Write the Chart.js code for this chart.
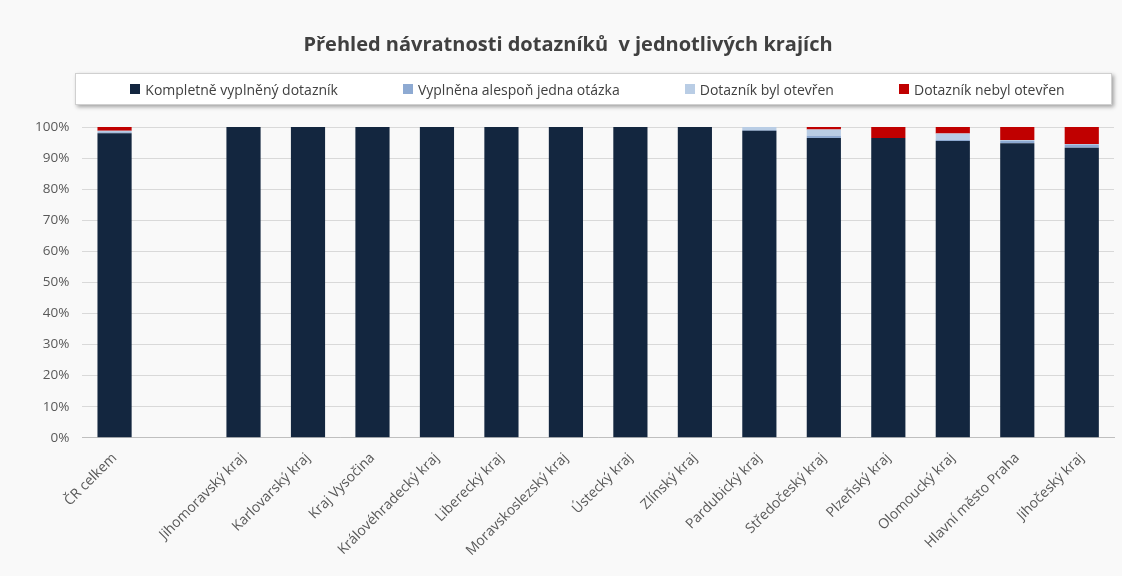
<!DOCTYPE html>
<html>
<head>
<meta charset="utf-8">
<script src="https://cdn.jsdelivr.net/npm/chart.js@4"></script>
<style>
  html, body { margin: 0; padding: 0; background: #f9f9f9; }
  #wrap { width: 1122px; height: 576px; position: relative; }
  #legend {
    position: absolute; left: 75px; top: 73px; width: 1037px; height: 32px;
    box-sizing: border-box; padding-left: 8px;
    background: #fff; border: 1px solid #d0d0d0;
    box-shadow: 2px 2px 4px rgba(0,0,0,0.35);
    display: flex; align-items: center; justify-content: center; gap: 65px;
    font: 14px 'Open Sans', 'DejaVu Sans', sans-serif; color: #404040;
  }
  #legend span.item { display: flex; align-items: center; white-space: nowrap; }
  #legend i { display: inline-block; width: 10px; height: 10px; margin-right: 5px; }
</style>
</head>
<body>
<div id="wrap"><canvas id="chart"></canvas><div id="legend"></div></div>
<script>
const categories = ["ČR celkem", "", "Jihomoravský kraj", "Karlovarský kraj", "Kraj Vysočina",
  "Královéhradecký kraj", "Liberecký kraj", "Moravskoslezský kraj", "Ústecký kraj", "Zlínský kraj",
  "Pardubický kraj", "Středočeský kraj", "Plzeňský kraj", "Olomoucký kraj", "Hlavní město Praha", "Jihočeský kraj"];

// podíly v %
const kompletne = [98.0, null, 100, 100, 100, 100, 100, 100, 100, 100, 98.8, 96.5, 96.5, 95.5, 94.8, 93.3];
const alesponJedna = [0.3, null, 0, 0, 0, 0, 0, 0, 0, 0, 0.2, 0.7, 0, 0.4, 0.8, 1.1];
const otevren = [0.5, null, 0, 0, 0, 0, 0, 0, 0, 0, 1.0, 2.0, 0, 2.0, 0.2, 0.1];
const neotevren = [1.2, null, 0, 0, 0, 0, 0, 0, 0, 0, 0, 0.8, 3.5, 2.1, 4.2, 5.5];

const yTicks = [0, 10, 20, 30, 40, 50, 60, 70, 80, 90, 100];

const font = "'Open Sans', 'DejaVu Sans', sans-serif";

const chart = new Chart(document.getElementById("chart"), {
  type: "bar",
  data: {
    labels: categories,
    datasets: [
      { label: "Kompletně vyplněný dotazník", data: kompletne, backgroundColor: "#13263f" },
      { label: "Vyplněna alespoň jedna otázka", data: alesponJedna, backgroundColor: "#8eaad2" },
      { label: "Dotazník byl otevřen", data: otevren, backgroundColor: "#b9cde5" },
      { label: "Dotazník nebyl otevřen", data: neotevren, backgroundColor: "#c00000" }
    ]
  },
  options: {
    responsive: true,
    maintainAspectRatio: false,
    animation: false,
    datasets: { bar: { barPercentage: 0.53, categoryPercentage: 1.0 } },
    layout: { padding: { left: 22, right: 8, bottom: 13 } },
    plugins: {
      title: {
        display: true,
        text: "Přehled návratnosti dotazníků  v jednotlivých krajích",
        color: "#404040",
        font: { family: font, size: 20, weight: "bold" },
        padding: { top: 33, bottom: 70 }
      },
      legend: { display: false },
      tooltip: { enabled: false }
    },
    scales: {
      x: {
        stacked: true,
        grid: { display: false },
        border: { color: "#bfbfbf" },
        ticks: {
          color: "#595959",
          minRotation: 45,
          maxRotation: 45,
          autoSkip: false,
          padding: 4,
          font: { family: font, size: 14 }
        }
      },
      y: {
        stacked: true,
        min: 0,
        max: 100,
        afterBuildTicks(axis) { axis.ticks = yTicks.map(v => ({ value: v })); },
        grid: { color: "#d9d9d9", drawTicks: false },
        border: { display: false },
        ticks: {
          color: "#595959",
          padding: 13,
          font: { family: font, size: 13.5 },
          callback: v => v + "%"
        }
      }
    }
  }
});

// legenda jako HTML
const legendEl = document.getElementById("legend");
chart.data.datasets.forEach(ds => {
  const item = document.createElement("span");
  item.className = "item";
  const sw = document.createElement("i");
  sw.style.background = ds.backgroundColor;
  item.appendChild(sw);
  item.appendChild(document.createTextNode(ds.label));
  legendEl.appendChild(item);
});
</script>
</body>
</html>
